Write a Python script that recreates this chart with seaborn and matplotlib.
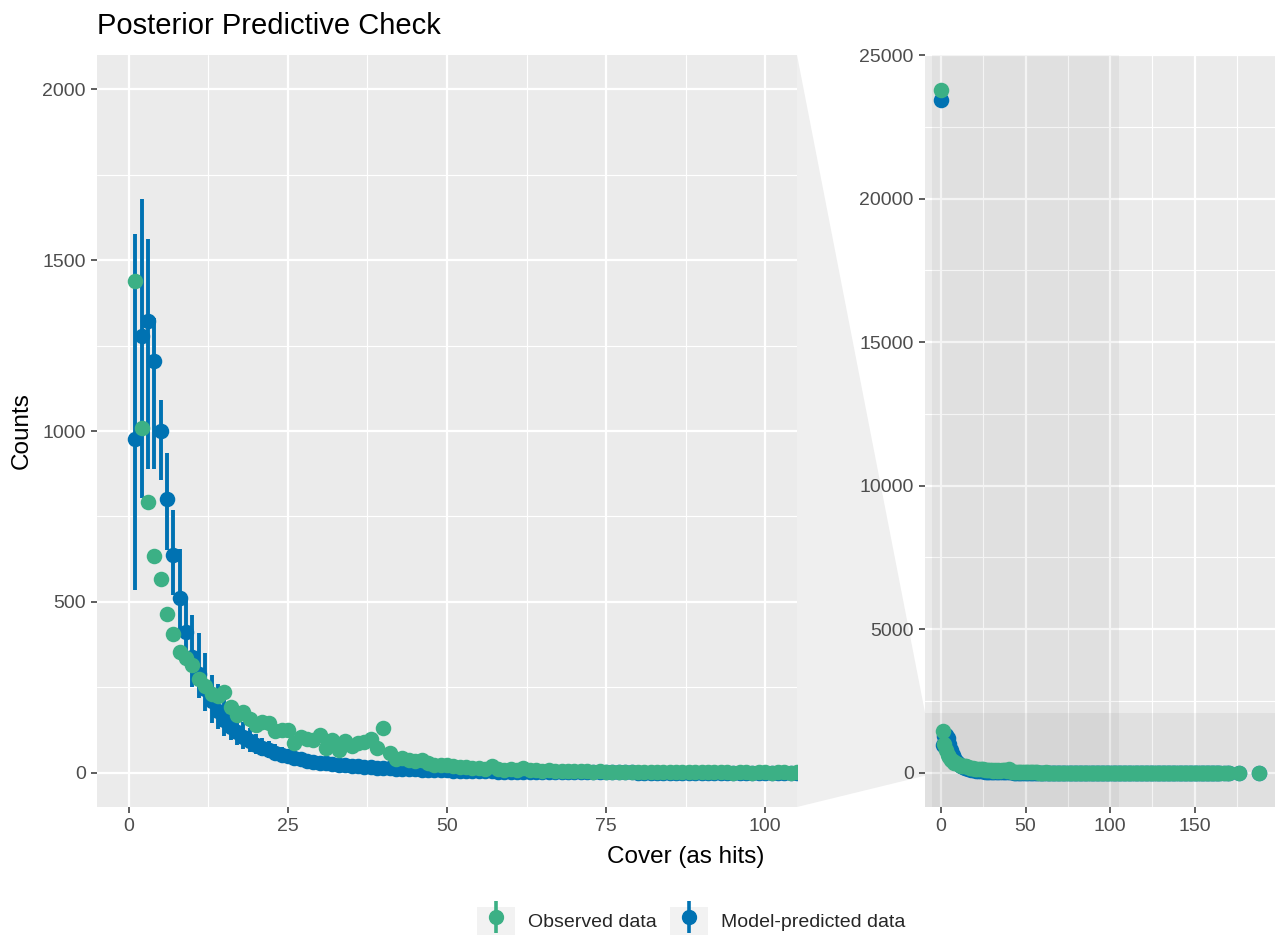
import pandas as pd
import seaborn as sns
from matplotlib import pyplot as plt
from matplotlib.lines import Line2D
from matplotlib.patches import Patch, Polygon
from matplotlib.legend_handler import HandlerTuple
from matplotlib.ticker import MultipleLocator

# cover values (hits) observed in the data
cover = list(range(0, 166)) + [167, 169, 170, 176, 188]

# observed counts per cover value
observed = [
    23780, 1440, 1009, 792, 634, 566, 464, 406, 353, 336,
    315, 274, 254, 231, 225, 236, 194, 169, 179, 157,
    140, 148, 145, 122, 125, 125, 88, 104, 98, 96,
    110, 72, 95, 67, 94, 78, 86, 90, 100, 72,
    131, 57, 40, 44, 38, 36, 38, 28, 24, 22,
    23, 19, 17, 16, 14, 13, 12, 20, 11, 9,
    10, 9, 14, 8, 7, 6, 7, 5, 6, 4,
    5, 4, 4, 3, 4, 3, 3, 2, 3, 2,
    2, 3, 2, 2, 1, 2, 1, 2, 1, 1,
    1, 2, 1, 1, 1, 0, 1, 1, 0, 1,
    1, 0, 1, 1, 0, 1, 0, 1, 1, 0,
    1, 0, 1, 0, 1, 1, 0, 1, 0, 1,
    0, 1, 0, 1, 0, 0, 1, 0, 1, 0,
    1, 0, 0, 1, 0, 1, 0, 0, 1, 0,
    1, 0, 1, 0, 0, 1, 0, 1, 0, 0,
    1, 0, 0, 1, 0, 1, 0, 0, 1, 0,
    1, 0, 0, 1, 0, 1,
    1, 1, 1, 1, 1,
]

# model-predicted counts (posterior mean and interval)
predicted = [
    23430, 977, 1277, 1323, 1206, 1001, 802, 636, 510, 412,
    340, 290, 245, 210, 180, 155, 135, 120, 105, 92,
    82, 73, 66, 59, 53, 48, 44, 40, 36, 33,
    30, 28, 26, 24, 22, 20, 19, 17, 16, 15,
    14, 13, 12, 11, 10, 10, 9, 8, 8, 7,
    7, 6, 6, 5, 5, 4, 4, 4, 3, 3,
    3, 3, 2, 2, 2, 2, 2, 2, 1, 1,
    1, 1, 1, 1, 1, 1, 1, 1, 1, 1,
    0, 0, 0, 0, 0, 0, 0, 0, 0, 0,
    0, 0, 0, 0, 0, 0, 0, 0, 0, 0,
    0, 0, 0, 0, 0, 0, 0, 0, 0, 0,
    0, 0, 0, 0, 0, 0, 0, 0, 0, 0,
    0, 0, 0, 0, 0, 0, 0, 0, 0, 0,
    0, 0, 0, 0, 0, 0, 0, 0, 0, 0,
    0, 0, 0, 0, 0, 0, 0, 0, 0, 0,
    0, 0, 0, 0, 0, 0, 0, 0, 0, 0,
    0, 0, 0, 0, 0, 0,
    0, 0, 0, 0, 0,
]

pred_lo = [
    23200, 534, 805, 890, 890, 856, 651, 520, 410, 330,
    251, 219, 180, 146, 128, 108, 95, 82, 70, 62,
    55, 48, 43, 38, 34, 30, 27, 24, 22, 20,
    18, 16, 15, 13, 12, 11, 10, 9, 8, 8,
    7, 7, 6, 5, 5, 5, 4, 4, 3, 3,
    3, 2, 2, 2, 2, 1, 1, 1, 1, 1,
    0, 0, 0, 0, 0, 0, 0, 0, 0, 0,
    0, 0, 0, 0, 0, 0, 0, 0, 0, 0,
    0, 0, 0, 0, 0, 0, 0, 0, 0, 0,
    0, 0, 0, 0, 0, 0, 0, 0, 0, 0,
    0, 0, 0, 0, 0, 0, 0, 0, 0, 0,
    0, 0, 0, 0, 0, 0, 0, 0, 0, 0,
    0, 0, 0, 0, 0, 0, 0, 0, 0, 0,
    0, 0, 0, 0, 0, 0, 0, 0, 0, 0,
    0, 0, 0, 0, 0, 0, 0, 0, 0, 0,
    0, 0, 0, 0, 0, 0, 0, 0, 0, 0,
    0, 0, 0, 0, 0, 0,
    0, 0, 0, 0, 0,
]

pred_hi = [
    23660, 1576, 1678, 1563, 1332, 1090, 936, 768, 655, 510,
    461, 409, 350, 286, 260, 225, 195, 170, 150, 130,
    115, 103, 93, 83, 75, 68, 62, 57, 52, 48,
    44, 41, 38, 35, 33, 31, 29, 27, 25, 23,
    22, 20, 19, 18, 17, 16, 15, 14, 13, 12,
    12, 11, 10, 9, 9, 8, 8, 7, 7, 6,
    6, 6, 5, 5, 5, 4, 4, 4, 4, 3,
    3, 3, 3, 3, 3, 3, 2, 2, 2, 2,
    2, 2, 2, 2, 2, 2, 2, 2, 1, 1,
    1, 1, 1, 1, 1, 1, 1, 1, 1, 1,
    1, 1, 1, 1, 1, 1, 1, 1, 1, 1,
    1, 1, 1, 1, 1, 1, 1, 1, 1, 1,
    0, 0, 0, 0, 0, 0, 0, 0, 0, 0,
    0, 0, 0, 0, 0, 0, 0, 0, 0, 0,
    0, 0, 0, 0, 0, 0, 0, 0, 0, 0,
    0, 0, 0, 0, 0, 0, 0, 0, 0, 0,
    0, 0, 0, 0, 0, 0,
    0, 0, 0, 0, 0,
]

legend_labels = ['Observed data', 'Model-predicted data']

GREEN = '#3CB085'
BLUE = '#0072B2'

df = pd.DataFrame({'cover': cover, 'observed': observed,
                   'predicted': predicted, 'lo': pred_lo, 'hi': pred_hi})

sns.set_theme(style='darkgrid', rc={
    'axes.facecolor': '#EBEBEB',
    'grid.color': 'white',
    'grid.linewidth': 1.6,
    'xtick.bottom': True, 'ytick.left': True,
    'xtick.major.size': 4.6, 'ytick.major.size': 4.6,
    'xtick.major.width': 1.1, 'ytick.major.width': 1.1,
    'xtick.minor.size': 0, 'ytick.minor.size': 0,
    'xtick.color': '#333333', 'ytick.color': '#333333',
    'xtick.labelcolor': '#4D4D4D', 'ytick.labelcolor': '#4D4D4D',
    'xtick.labelsize': 14, 'ytick.labelsize': 14,
    'xtick.major.pad': 3.5, 'ytick.major.pad': 3.5,
})
plt.rcParams['font.family'] = ['Liberation Sans', 'DejaVu Sans']

fig = plt.figure(figsize=(12.77, 9.4), dpi=100)
ax1 = fig.add_axes([97 / 1277, 133 / 940, 700 / 1277, 752 / 940])
ax2 = fig.add_axes([925 / 1277, 133 / 940, 350 / 1277, 752 / 940])


def draw_panel(ax):
    ax.vlines(df['cover'], df['lo'], df['hi'], color=BLUE, linewidth=2.8, zorder=2)
    sns.scatterplot(data=df, x='cover', y='predicted', color=BLUE, s=125,
                    linewidth=0, ax=ax, zorder=3)
    sns.scatterplot(data=df, x='cover', y='observed', color=GREEN, s=125,
                    linewidth=0, ax=ax, zorder=4)
    ax.set_xlabel('')
    ax.set_ylabel('')
    ax.grid(which='minor', color='white', linewidth=0.8)
    for s in ax.spines.values():
        s.set_visible(False)


# zoomed panel
draw_panel(ax1)
ax1.set_xlim(-5, 105)
ax1.set_ylim(-100, 2100)
ax1.xaxis.set_major_locator(MultipleLocator(25))
ax1.xaxis.set_minor_locator(MultipleLocator(12.5))
ax1.set_yticks([0, 500, 1000, 1500, 2000])
ax1.yaxis.set_minor_locator(MultipleLocator(250))

# full panel
draw_panel(ax2)
ax2.set_xlim(-9.4, 197.4)
ax2.set_ylim(-1190, 24990)
ax2.set_xticks([0, 50, 100, 150])
ax2.xaxis.set_minor_locator(MultipleLocator(25))
ax2.set_yticks([0, 5000, 10000, 15000, 20000, 25000])
ax2.yaxis.set_minor_locator(MultipleLocator(2500))
ax2.axvspan(-5, 105, color='black', alpha=0.045, lw=0, zorder=1)
ax2.axhspan(-1190, 2100, color='black', alpha=0.045, lw=0, zorder=1)

# connector between the two panels, kept behind the axes and their labels
inv = fig.transFigure.inverted()
pts = [ax1.transAxes.transform((1, 1)),
       ax2.transData.transform((-9.4, 2100)),
       ax2.transData.transform((-9.4, -100)),
       ax1.transAxes.transform((1, 0))]
pts = [inv.transform(p) for p in pts]
fig.add_artist(Polygon(pts, closed=True, transform=fig.transFigure,
                       facecolor='#EBEBEB', alpha=0.8, edgecolor='none', zorder=-1))

fig.text(97 / 1277, 1 - 26 / 940, 'Posterior Predictive Check', fontsize=21,
         ha='left', va='center', color='black')
fig.text(686 / 1277, 1 - 857 / 940, 'Cover (as hits)', fontsize=17.5,
         ha='center', va='center', color='black')
fig.text(22 / 1277, 1 - 431 / 940, 'Counts', fontsize=17.5, rotation=90,
         ha='center', va='center', color='black')

handles = []
for c in [GREEN, BLUE]:
    handles.append((Patch(facecolor='#F2F2F2', edgecolor='none'),
                    Line2D([], [], color=c, marker='|', markersize=23, mew=2.6, linestyle='None'),
                    Line2D([], [], color=c, marker='o', markersize=10, linestyle='None')))
fig.legend(handles, legend_labels, loc='center', bbox_to_anchor=(691 / 1277, 1 - 921 / 940),
           ncol=2, frameon=False, fontsize=14, handlelength=1.96, handleheight=1.9,
           handletextpad=0.67, columnspacing=0.67, borderpad=0,
           handler_map={tuple: HandlerTuple(ndivide=1, pad=0)})

fig.savefig('out.png', dpi=100)
